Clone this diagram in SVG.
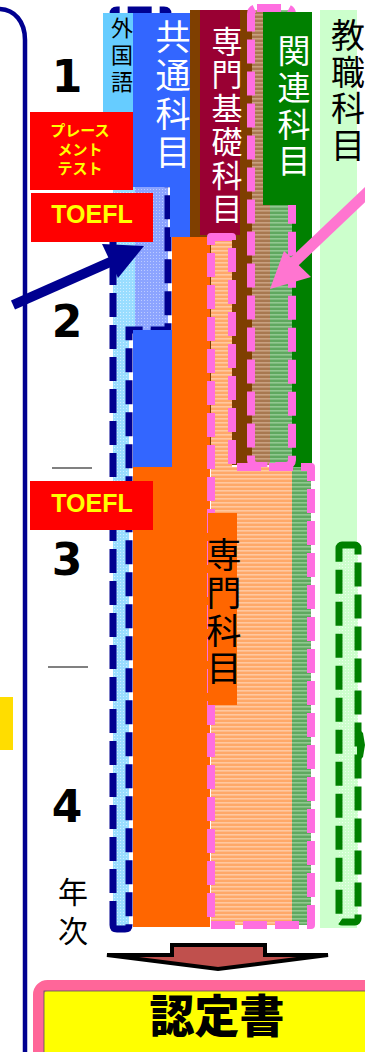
<svg xmlns="http://www.w3.org/2000/svg" width="365" height="1052" viewBox="0 0 365 1052">
<style>
.jp{font-family:"Noto Sans CJK JP","Noto Sans",sans-serif;}
.num{font-family:"DejaVu Sans",sans-serif;font-weight:bold;font-size:44px;text-anchor:middle;fill:#000;}
.red{fill:#FF0000;}
.ylw{fill:#FFFF00;font-weight:bold;text-anchor:middle;}
.navyd{fill:none;stroke:#000090;stroke-width:7;stroke-dasharray:24 8;}
.pinkd{fill:none;stroke:#FF6EE0;stroke-width:8;stroke-dasharray:24 8;stroke-linejoin:round;}
.greend{fill:none;stroke:#008000;stroke-width:7;stroke-dasharray:24 8;}
.vt{text-anchor:middle;}
</style>
<defs>
<pattern id="stO" width="4" height="4" patternUnits="userSpaceOnUse"><rect width="4" height="4" fill="#FFA868"/><rect y="2" width="4" height="1.6" fill="#FFC8A0"/></pattern>
<pattern id="stB" width="4" height="4" patternUnits="userSpaceOnUse"><rect width="4" height="4" fill="#A87850"/><rect y="2" width="4" height="1.6" fill="#C8A080"/></pattern>
<pattern id="stG" width="4" height="4" patternUnits="userSpaceOnUse"><rect width="4" height="4" fill="#5FA85F"/><rect y="2" width="4" height="1.6" fill="#90C890"/></pattern>
<pattern id="dtB" width="3" height="3" patternUnits="userSpaceOnUse"><rect width="3" height="3" fill="#99DDFF"/><rect width="1" height="1" fill="#D0EEFF"/></pattern>
<pattern id="dtL" width="3" height="3" patternUnits="userSpaceOnUse"><rect width="3" height="3" fill="#8CA4FF"/><rect width="1" height="1" fill="#BCCBFF"/></pattern>
<pattern id="dtG" width="3" height="3" patternUnits="userSpaceOnUse"><rect width="3" height="3" fill="#CCFFCC"/><rect width="1" height="1" fill="#ECFFEC"/></pattern>
</defs>
<rect width="365" height="1052" fill="#FFFFFF"/>

<g id="year-axis">
<path d="M-2,9 C15,9 25,22 25,40 L25,1052" fill="none" stroke="#000090" stroke-width="4.5"/>
<rect x="0" y="697" width="13" height="53" fill="#FFDD00"/>
<line x1="52" y1="468" x2="92" y2="468" stroke="#808080" stroke-width="2"/>
<line x1="48" y1="667" x2="88" y2="667" stroke="#808080" stroke-width="2"/>
<text class="num" x="67" y="92">1</text>
<text class="num" x="67" y="337">2</text>
<text class="num" x="67" y="575">3</text>
<text class="num" x="67" y="822">4</text>
<text class="jp vt" font-size="30" x="73"><tspan x="73" y="903">年</tspan><tspan x="73" y="942">次</tspan></text>
</g>

<g id="kyoshoku">
<rect x="320" y="10" width="37" height="918" fill="#CCFFCC"/>
<rect x="339" y="545" width="19" height="377" fill="url(#dtG)"/>
<rect x="339" y="545" width="19" height="377" rx="3" class="greend"/>
<polygon points="357,727 363,733 365,745 363,757 357,763" fill="#008000"/>
<text class="jp vt" font-size="34" fill="#000"><tspan x="348" y="48">教</tspan><tspan x="348" y="85">職</tspan><tspan x="348" y="121">科</tspan><tspan x="348" y="158">目</tspan></text>
</g>

<g id="gaikokugo">
<rect x="113" y="187" width="22" height="143" fill="url(#dtB)"/>
<rect x="135" y="187" width="33" height="143" fill="url(#dtL)"/>
<rect x="113" y="330" width="16" height="597" fill="url(#dtB)"/>
<path class="navyd" d="M113,925 V14 Q113,10 117,10 H164 Q168,10 168,14 V330 H129 V925 Q129,929 125,929 H117 Q113,929 113,925 Z"/>
<rect x="103" y="13" width="30" height="174" fill="#66CCFF"/>
<text class="jp vt" font-size="22" fill="#000"><tspan x="122" y="36">外</tspan><tspan x="122" y="63">国</tspan><tspan x="122" y="90">語</tspan></text>
</g>

<g id="kyotsu">
<rect x="133" y="13" width="57" height="174" fill="#3366FF"/>
<rect x="170" y="187" width="20" height="50" fill="#3366FF"/>
<rect x="133" y="330" width="39" height="137" fill="#3366FF"/>
<text class="jp vt" font-size="35" fill="#FFFFFF"><tspan x="173" y="50">共</tspan><tspan x="173" y="88">通</tspan><tspan x="173" y="127">科</tspan><tspan x="173" y="165">目</tspan></text>
</g>

<g id="senmon-kiso">
<rect x="190" y="10" width="62" height="455" fill="#7F3F00"/>
<rect x="200" y="10" width="40" height="225" fill="#990033"/>
<text class="jp vt" font-size="31" fill="#FFFFFF"><tspan x="227" y="53">専</tspan><tspan x="227" y="86">門</tspan><tspan x="227" y="120">基</tspan><tspan x="227" y="153">礎</tspan><tspan x="227" y="187">科</tspan><tspan x="227" y="220">目</tspan></text>
</g>

<g id="kanren">
<rect x="252" y="10" width="18" height="455" fill="url(#stB)"/>
<rect x="270" y="10" width="22" height="455" fill="url(#stG)"/>
<rect x="292" y="205" width="20" height="262" fill="#008000"/>
<rect x="251" y="8" width="41" height="458" rx="6" class="pinkd"/>
<rect x="263" y="12" width="49" height="193" fill="#008000"/>
<text class="jp vt" font-size="33" fill="#FFFFFF"><tspan x="294" y="63">関</tspan><tspan x="294" y="100">連</tspan><tspan x="294" y="137">科</tspan><tspan x="294" y="173">目</tspan></text>
</g>

<g id="senmon">
<path d="M172,237 H210 V927 H133 V467 H172 Z" fill="#FF6600"/>
<rect x="211" y="237" width="21" height="230" fill="url(#stO)"/>
<rect x="211" y="467" width="81" height="458" fill="url(#stO)"/>
<rect x="292" y="467" width="19" height="458" fill="url(#stG)"/>
<path class="pinkd" d="M211,237 H232 V467 H311 V925 H211 Z"/>
<rect x="208" y="513" width="29" height="192" fill="#FF6600"/>
<text class="jp vt" font-size="35" fill="#000"><tspan x="224" y="568">専</tspan><tspan x="224" y="606">門</tspan><tspan x="224" y="644">科</tspan><tspan x="224" y="681">目</tspan></text>
</g>

<g id="placement-test">
<rect class="red" x="30" y="112" width="103" height="78"/>
<text class="jp ylw" font-size="15"><tspan x="80" y="136">プレース</tspan><tspan x="80" y="155">メント</tspan><tspan x="80" y="174">テスト</tspan></text>
</g>
<g id="toefl-1">
<rect class="red" x="31" y="193" width="122" height="49"/>
<text class="ylw" font-family="Liberation Sans, Arial, sans-serif" font-size="25" x="92" y="223">TOEFL</text>
</g>
<g id="toefl-2">
<rect class="red" x="30" y="481" width="123" height="49"/>
<text class="ylw" font-family="Liberation Sans, Arial, sans-serif" font-size="25" x="92" y="512">TOEFL</text>
</g>

<g id="connectors">
<line x1="13" y1="305" x2="117" y2="259" stroke="#000090" stroke-width="10"/>
<polygon points="102,244 144,246 118,278" fill="#000090"/>
<line x1="372" y1="188" x2="292" y2="264" stroke="#FF75D0" stroke-width="11"/>
<polygon points="284,251 311,277 270,289" fill="#FF75D0"/>
<polygon points="172,945 265,945 265,955 328,955 218,969 107,955 172,955" fill="#C0504D" stroke="#000" stroke-width="4" stroke-linejoin="miter"/>
</g>

<g id="certificate">
<rect x="38.5" y="985.5" width="345" height="90" rx="9" fill="#FFFF00" stroke="#FF6699" stroke-width="11"/>
<rect x="44" y="991" width="340" height="80" fill="none" stroke="#555" stroke-width="0.8"/>
<text class="jp" font-size="45" font-weight="900" text-anchor="middle" x="217" y="1033" fill="#000">認定書</text>
</g>
</svg>
